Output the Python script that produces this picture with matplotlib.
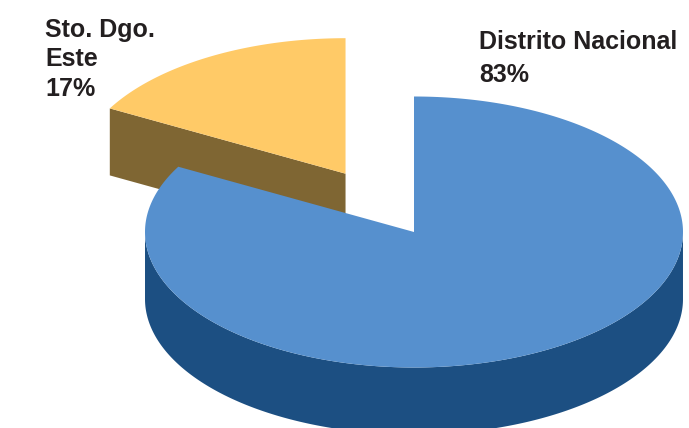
import numpy as np
import matplotlib.pyplot as plt
from matplotlib.patches import Polygon

labels = ['Distrito Nacional', 'Sto. Dgo.\nEste']
shares = [83, 17]
explode = [0.0, 0.5]
top_colors = ['#5690ce', '#ffca67']
side_colors = ['#1c4f82', '#7f6633']

# pie geometry in pixel units
cx, cy = 414, 232
a, b = 269, 135.5
depth = 67


def rim(xc, yc, ang):
    t = np.radians(ang)
    return xc + a * np.cos(t), yc - b * np.sin(t)


fig = plt.figure(figsize=(6.89, 4.28), dpi=100)
ax = fig.add_axes([0, 0, 1, 1])
ax.set_xlim(0, 689)
ax.set_ylim(428, 0)
ax.axis('off')

# build wedges (clockwise from 12 o'clock)
wedges = []
start = 90.0
for i, v in enumerate(shares):
    sweep = v / sum(shares) * 360
    t1, t2 = start, start - sweep
    mid = np.radians((t1 + t2) / 2)
    xc = cx + explode[i] * a * np.cos(mid)
    yc = cy - explode[i] * b * np.sin(mid)
    wedges.append((i, t1, t2, xc, yc))
    start = t2

# back ones first
for i, t1, t2, xc, yc in sorted(wedges, key=lambda w: w[4]):
    ang = np.linspace(t1, t2, 400)
    # cut faces that look towards the viewer
    faces = []
    if np.cos(np.radians(t1)) < -1e-6:
        faces.append(t1)
    if np.cos(np.radians(t2)) > 1e-6:
        faces.append(t2)
    for th in faces:
        rx, ry = rim(xc, yc, th)
        ax.add_patch(Polygon([(xc, yc), (rx, ry), (rx, ry + depth), (xc, yc + depth)],
                             closed=True, fc=side_colors[i], ec='none'))
    # outer wall on the front half
    front = ang[np.sin(np.radians(ang)) <= 0]
    if len(front) > 1:
        fx, fy = rim(xc, yc, front)
        pts = np.column_stack([np.r_[fx, fx[::-1]], np.r_[fy, fy[::-1] + depth]])
        ax.add_patch(Polygon(pts, closed=True, fc=side_colors[i], ec='none'))
    # top face
    tx, ty = rim(xc, yc, ang)
    pts = np.column_stack([np.r_[xc, tx], np.r_[yc, ty]])
    ax.add_patch(Polygon(pts, closed=True, fc=top_colors[i], ec='none'))

txt = dict(fontsize=18, fontweight='bold', color='#231f20',
           family=['Liberation Sans', 'DejaVu Sans'], va='top', ha='left')
ax.text(45, 18, f'{labels[1]}\n{shares[1]}%', linespacing=1.28, **txt)
ax.text(479, 30, f'{labels[0]}\n{shares[0]}%', linespacing=1.45, **txt)

plt.savefig('out.png', dpi=100)
